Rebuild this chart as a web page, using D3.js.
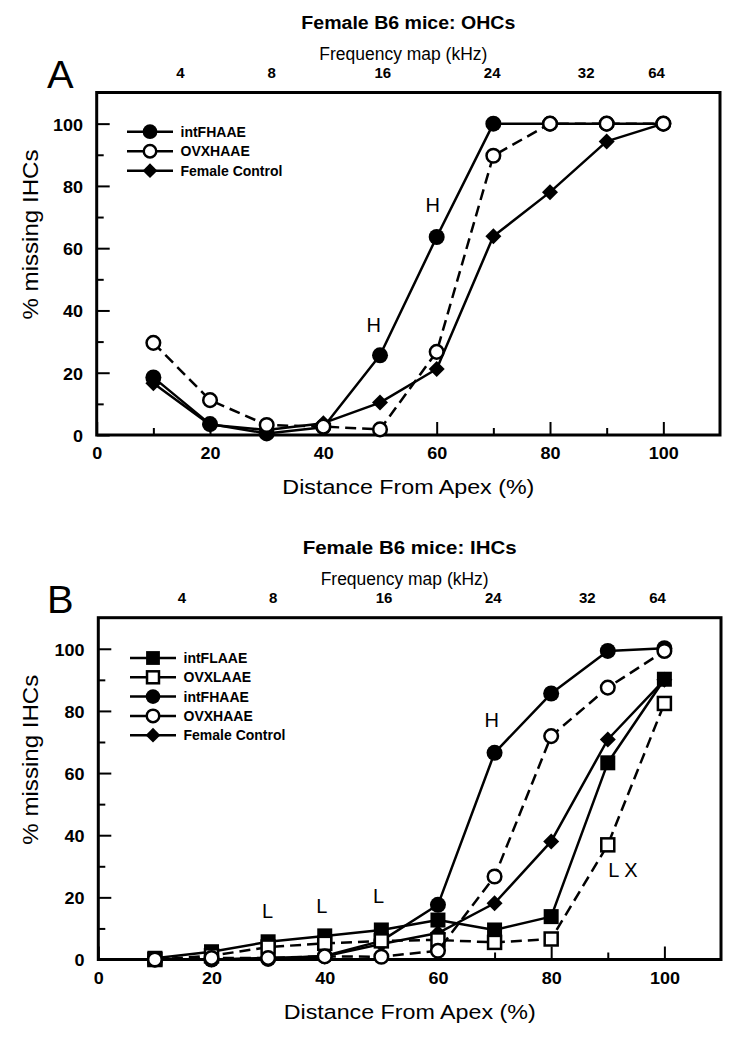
<!DOCTYPE html>
<html><head><meta charset="utf-8">
<script src="https://cdn.jsdelivr.net/npm/d3@7"></script>
<style>
body{margin:0;background:#fff}
svg{display:block}
text{font-family:"Liberation Sans",Arial,Helvetica,sans-serif;fill:#000}
</style>
</head><body><svg id="c" width="735" height="1037"></svg>
<script>
// ---------- data ----------
const distance = [10,20,30,40,50,60,70,80,90,100];
const xTickValues = [0,20,40,60,80,100];
const xMinorValues = [10,30,50,70,90];
const yTickValues = [0,20,40,60,80,100];
const yMinorValues = [10,30,50,70,90];
const freqLabels = ["4","8","16","24","32","64"];
const freqPositions = [14.7,30.8,50.4,69.7,86.3,98.7];

// Panel A: OHCs
const ohcIntFHAAE = [18.5,3.5,0.5,2.5,25.6,63.6,100,100,100,100];
const ohcOVXHAAE  = [29.6,11.2,3.2,2.7,1.8,26.7,89.7,100,100,100];
const ohcControl  = [16.6,3.3,1.6,3.8,10.4,21.2,63.8,78,94.3,100];

// Panel B: IHCs
const ihcIntFLAAE = [0.4,2.5,5.7,7.6,9.5,12.7,9.5,13.8,63.3,90.2];
const ihcOVXLAAE  = [0,1.2,4,5.2,6,6.3,5.5,6.6,36.9,82.4];
const ihcIntFHAAE = [0,0,0.2,1.1,6,17.6,66.5,85.6,99.3,100.2];
const ihcOVXHAAE  = [0,0.5,0.5,1,0.9,2.8,26.7,71.9,87.5,99.3];
const ihcControl  = [0,0,0.5,1,5,8.5,18.1,38,70.8,90];

// annotations [text, x(distance), y(%)]
const annotA = [["H",48.9,33],["H",59.3,71.5]];
const annotB = [["H",69.5,74.7],["L",29.9,13.4],["L",39.5,15],["L",49.5,18.2]];
const annotBStart = [["L X",90.1,26.6]];

// ---------- drawing ----------
const svg = d3.select("#c");
const FONT = '"Liberation Sans",Arial,Helvetica,sans-serif';

function marker(g, type, filled, cx, cy, s=1){
  const sw = 2.5;
  if(type==="circle"){
    if(filled) g.append("circle").attr("cx",cx).attr("cy",cy).attr("r",8*s).attr("fill","#000");
    else g.append("circle").attr("cx",cx).attr("cy",cy).attr("r",6.8*s).attr("fill","#fff").attr("stroke","#000").attr("stroke-width",sw);
  } else if(type==="square"){
    if(filled){const h=7.5*s; g.append("rect").attr("x",cx-h).attr("y",cy-h).attr("width",2*h).attr("height",2*h).attr("fill","#000");}
    else {const h=6.5*s; g.append("rect").attr("x",cx-h).attr("y",cy-h).attr("width",2*h).attr("height",2*h).attr("fill","#fff").attr("stroke","#000").attr("stroke-width",sw);}
  } else if(type==="diamond"){
    const h=8*s;
    g.append("path").attr("d",`M${cx},${cy-h}L${cx+h},${cy}L${cx},${cy+h}L${cx-h},${cy}Z`).attr("fill","#000");
  }
}

function txt(g, str, x, y, o){
  const t = g.append("text")
    .attr("transform",`translate(${x},${y})${o.rot?` rotate(${o.rot})`:""} scale(${o.sx||1},1)`)
    .attr("font-size",o.size).attr("font-weight",o.bold?"bold":"normal")
    .attr("text-anchor",o.anchor||"start").text(str);
  if(o.len) t.attr("textLength",o.len).attr("lengthAdjust","spacingAndGlyphs");
  return t;
}

function panel(cfg){
  const g = svg.append("g");
  const x = d3.scaleLinear().domain([0,110]).range([cfg.left,cfg.right]);
  const y = d3.scaleLinear().domain([0,110]).range([cfg.bottom,cfg.top]);
  const cxm = (cfg.left+cfg.right)/2;
  const off = cfg.top;

  // titles
  txt(g, cfg.title, cxm, off-64, {size:18, bold:true, anchor:"middle", len:214});
  txt(g, "Frequency map (kHz)", cxm-5, off-33, {size:17.5, anchor:"middle", len:168});
  txt(g, cfg.letter, 47, off-5, {size:38, sx:1.05});

  // top frequency axis
  const top = g.append("g").attr("transform",`translate(0,${cfg.top})`)
    .call(d3.axisTop(x).tickValues(freqPositions).tickFormat((d,i)=>freqLabels[i]).tickSize(0).tickPadding(14.5));
  top.select(".domain").remove();
  top.attr("font-family",FONT).attr("font-size",15).attr("font-weight","bold");

  // bottom axis
  const bot = g.append("g").attr("transform",`translate(0,${cfg.bottom})`)
    .call(d3.axisBottom(x).tickValues(xTickValues).tickSizeInner(-13).tickSizeOuter(0).tickPadding(12));
  bot.select(".domain").remove();
  bot.attr("font-family",FONT).attr("font-size",17).attr("font-weight","bold");
  bot.selectAll("line").attr("stroke-width",2);
  bot.selectAll("text").attr("transform","scale(1.06,1)");
  const botm = g.append("g").attr("transform",`translate(0,${cfg.bottom})`)
    .call(d3.axisBottom(x).tickValues(xMinorValues).tickSizeInner(-7).tickSizeOuter(0).tickFormat(""));
  botm.select(".domain").remove();
  botm.selectAll("line").attr("stroke-width",2);

  // left axis
  const lef = g.append("g").attr("transform",`translate(${cfg.left},0)`)
    .call(d3.axisLeft(y).tickValues(yTickValues).tickSizeInner(-13).tickSizeOuter(0).tickPadding(13));
  lef.select(".domain").remove();
  lef.attr("font-family",FONT).attr("font-size",17).attr("font-weight","bold");
  lef.selectAll("line").attr("stroke-width",2);
  lef.selectAll("text").attr("transform","scale(1.06,1)").attr("dy","0.38em");
  const lefm = g.append("g").attr("transform",`translate(${cfg.left},0)`)
    .call(d3.axisLeft(y).tickValues(yMinorValues).tickSizeInner(-7).tickSizeOuter(0).tickFormat(""));
  lefm.select(".domain").remove();
  lefm.selectAll("line").attr("stroke-width",2);

  // axis titles
  txt(g, "Distance From Apex (%)", cxm, cfg.bottom+59, {size:20.5, anchor:"middle", len:252});
  txt(g, "% missing IHCs", 38, cfg.top+142, {size:21.5, anchor:"middle", rot:-90, len:170});

  // box
  g.append("rect").attr("x",cfg.left).attr("y",cfg.top).attr("width",cfg.right-cfg.left).attr("height",cfg.bottom-cfg.top)
    .attr("fill","none").attr("stroke","#000").attr("stroke-width",3);

  // series
  const line = d3.line().x(d=>x(d[0])).y(d=>y(d[1]));
  cfg.series.forEach(s=>{
    const pts = distance.map((d,i)=>[d,s.values[i]]);
    g.append("path").attr("d",line(pts)).attr("fill","none").attr("stroke","#000")
      .attr("stroke-width",2.5).attr("stroke-dasharray",s.dashed?"11,6":null).attr("stroke-linejoin","round");
    pts.forEach(p=>marker(g,s.type,s.filled,x(p[0]),y(p[1])));
  });

  // legend
  cfg.legend.forEach((s,i)=>{
    const ly = cfg.legY + i*cfg.legStep;
    g.append("line").attr("x1",cfg.legX-23).attr("x2",cfg.legX+23).attr("y1",ly).attr("y2",ly)
      .attr("stroke","#000").attr("stroke-width",2.5);
    marker(g,s.type,s.filled,cfg.legX,ly,0.92);
    txt(g, s.name, cfg.legX+30.5, ly+5, {size:14, bold:true});
  });

  // annotations
  cfg.annot.forEach(a=>txt(g,a[0],x(a[1]),y(a[2]),{size:20,anchor:"middle"}));
  (cfg.annotStart||[]).forEach(a=>txt(g,a[0],x(a[1]),y(a[2]),{size:20,anchor:"start"}));
}

const sIntFH_A = {name:"intFHAAE", values:ohcIntFHAAE, type:"circle", filled:true, dashed:false};
const sOVXH_A  = {name:"OVXHAAE", values:ohcOVXHAAE, type:"circle", filled:false, dashed:true};
const sCtl_A   = {name:"Female Control", values:ohcControl, type:"diamond", filled:true, dashed:false};

panel({
  title:"Female B6 mice: OHCs", letter:"A",
  left:96.7, right:720, top:92.5, bottom:435,
  series:[sCtl_A, sIntFH_A, sOVXH_A],
  legend:[sIntFH_A, sOVXH_A, sCtl_A],
  legX:150, legY:131.7, legStep:19.5,
  annot:annotA
});

const sIntFL_B = {name:"intFLAAE", values:ihcIntFLAAE, type:"square", filled:true, dashed:false};
const sOVXL_B  = {name:"OVXLAAE", values:ihcOVXLAAE, type:"square", filled:false, dashed:true};
const sIntFH_B = {name:"intFHAAE", values:ihcIntFHAAE, type:"circle", filled:true, dashed:false};
const sOVXH_B  = {name:"OVXHAAE", values:ihcOVXHAAE, type:"circle", filled:false, dashed:true};
const sCtl_B   = {name:"Female Control", values:ihcControl, type:"diamond", filled:true, dashed:false};

panel({
  title:"Female B6 mice: IHCs", letter:"B",
  left:98.3, right:721, top:617.7, bottom:959.5,
  series:[sCtl_B, sIntFH_B, sIntFL_B, sOVXL_B, sOVXH_B],
  legend:[sIntFL_B, sOVXL_B, sIntFH_B, sOVXH_B, sCtl_B],
  legX:153, legY:658, legStep:19.3,
  annot:annotB, annotStart:annotBStart
});
</script>
</body></html>
